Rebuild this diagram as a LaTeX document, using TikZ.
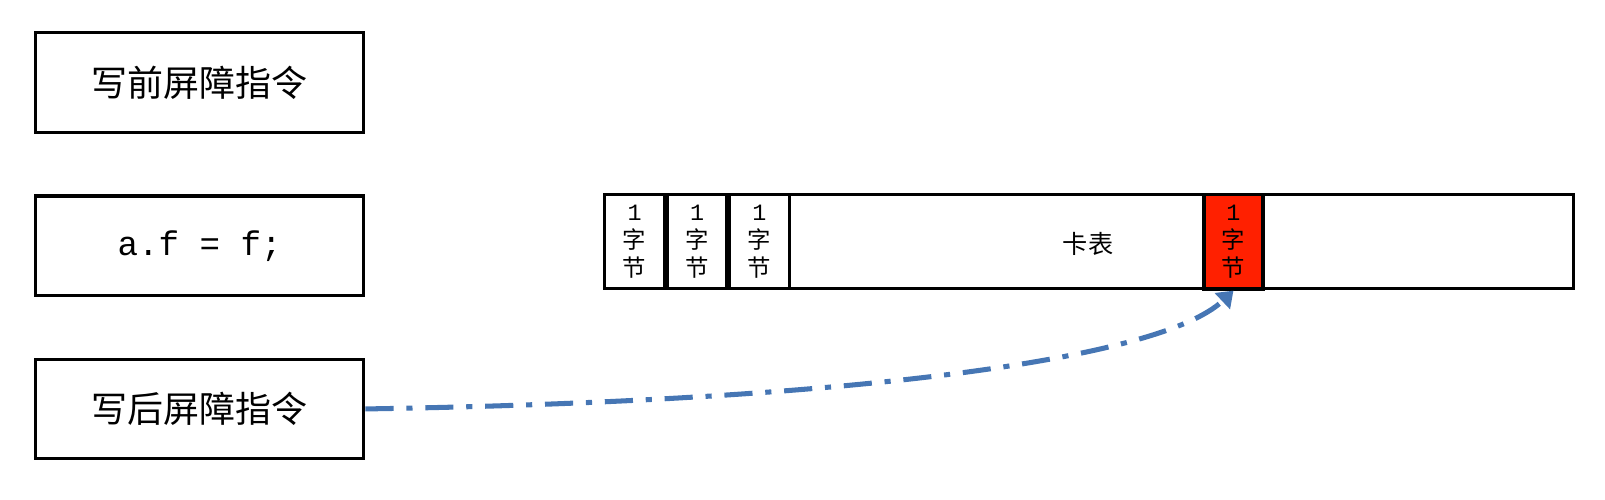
\documentclass[tikz,border=0pt]{standalone}
\usepackage{fontspec}
\newfontfamily\cjk{Noto Sans CJK SC}
\setmonofont{Liberation Mono}
\usetikzlibrary{positioning,arrows.meta}
\definecolor{arrowblue}{RGB}{70,118,180}
\definecolor{hotred}{RGB}{255,32,0}
\tikzset{
  codebox/.style={draw, rectangle, line width=1.7pt, minimum width=6.42cm, minimum height=1.94cm, font=\cjk\fontsize{20}{24}\selectfont},
  bytecell/.style={draw, rectangle, line width=1.7pt, minimum width=1.16cm, minimum height=1.84cm, inner sep=0pt, align=center, font=\cjk\fontsize{13}{15.6}\selectfont},
  barrier/.style={-{Triangle[width=0.42cm, length=0.3cm]}, arrowblue, line width=2.8pt, dash pattern=on 0.55cm off 0.25cm on 0.12cm off 0.25cm}
}
\begin{document}
\begin{tikzpicture}
        \useasboundingbox (0,0) rectangle (31.36,-9.75);
        % left column of instructions
        \node[codebox] (pre) at (3.9,-1.61) {写前屏障指令};
        \node[codebox, font=\ttfamily\fontsize{19}{22}\selectfont] (store) at (3.9,-4.8) {a.f = f;};
        \node[codebox] (post) at (3.9,-7.99) {写后屏障指令};

        % card table strip
        \node[draw, rectangle, line width=1.7pt, minimum width=18.92cm, minimum height=1.84cm, inner sep=0pt] (strip) at (21.28,-4.72) {};
        \node[bytecell, anchor=west] (byte1) at (strip.west) {{\ttfamily 1}\\字\\节};
        \node[bytecell, right=0pt of byte1] (byte2) {{\ttfamily 1}\\字\\节};
        \node[bytecell, right=0pt of byte2] (byte3) {{\ttfamily 1}\\字\\节};
        \node[font=\cjk\fontsize{14}{16}\selectfont] (table) at (21.26,-4.76) {卡表};
        \node[bytecell, fill=hotred, line width=2.2pt] (dirty) at (24.1,-4.72) {{\ttfamily 1}\\字\\节};

        \draw[barrier] (post.east) .. controls (16,-7.85) and (22.6,-7.1) .. (dirty.south);
\end{tikzpicture}
\end{document}
